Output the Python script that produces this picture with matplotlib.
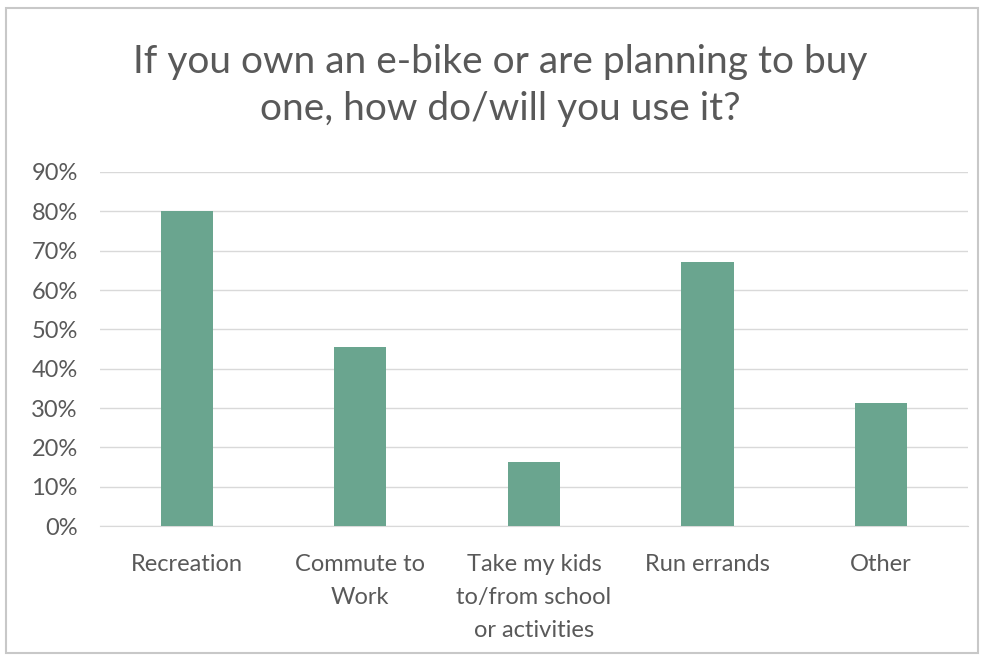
import matplotlib.pyplot as plt
from matplotlib.patches import Rectangle
from matplotlib.ticker import PercentFormatter

categories = ['Recreation', 'Commute to\nWork', 'Take my kids\nto/from school\nor activities',
              'Run errands', 'Other']
shares = [0.80, 0.455, 0.163, 0.672, 0.313]
y_ticks = [0.0, 0.1, 0.2, 0.3, 0.4, 0.5, 0.6, 0.7, 0.8, 0.9]

plt.rcParams['font.family'] = ['Lato', 'DejaVu Sans']
text_grey = '#595959'

fig = plt.figure(figsize=(9.84, 6.6), dpi=100)
fig.patches.append(Rectangle((0.006, 0.01), 0.988, 0.978, transform=fig.transFigure,
                             fill=False, edgecolor='#c8c8c8', linewidth=1.5))

ax = fig.add_axes([0.1016, 0.203, 0.882, 0.5364])
x = range(len(categories))
ax.bar(x, shares, width=0.3, color='#6aa58f', zorder=3)

ax.set_xlim(-0.5, len(categories) - 0.5)
ax.set_ylim(0, 0.9)
ax.set_yticks(y_ticks)
ax.yaxis.set_major_formatter(PercentFormatter(1.0, decimals=0))
ax.set_xticks(list(x))
ax.set_xticklabels(categories, linespacing=1.7, va='top')
ax.tick_params(axis='both', length=0, labelsize=17, colors=text_grey)
ax.tick_params(axis='x', pad=20)
ax.tick_params(axis='y', pad=16)
ax.grid(axis='y', color='#d9d9d9', linewidth=1, zorder=0)
for side in ['top', 'right', 'left']:
    ax.spines[side].set_visible(False)
ax.spines['bottom'].set_color('#d9d9d9')

fig.text(0.508, 0.87, 'If you own an e-bike or are planning to buy\none, how do/will you use it?',
         ha='center', va='center', fontsize=28, color=text_grey, linespacing=1.38)

plt.savefig('out.png', dpi=100)
